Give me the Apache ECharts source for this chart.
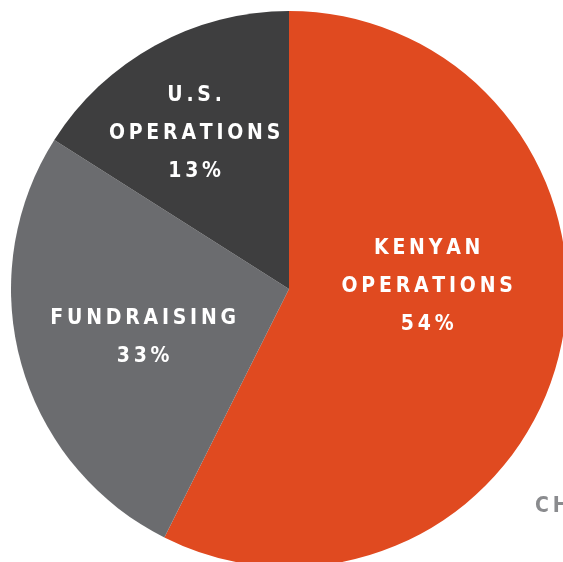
<!DOCTYPE html>
<html>
<head>
<meta charset="utf-8">
<style>
  html, body { margin: 0; padding: 0; background: #fff; }
  #pie { width: 563px; height: 562px; }
</style>
<script src="https://cdn.jsdelivr.net/npm/echarts@6/dist/echarts.min.js"></script>
</head>
<body>
<div id="pie"></div>
<script>
const names = ['KENYAN OPERATIONS', 'FUNDRAISING', 'U.S. OPERATIONS']
const values = [57.4, 26.6, 16.0]
// label text as printed on the chart
const labelLines = [['KENYAN', 'OPERATIONS', '54%'], ['FUNDRAISING', '33%'], ['U.S.', 'OPERATIONS', '13%']]
const colors = ['#E04A20', '#6B6C6F', '#3E3E3F']
// small nudges from the default inside label spot
const labelShift = [[0, -35], [-9, 11], [-26, -31]]

// letter spacing with thin spaces
const spaced = (s) => s.split('').join('\u2009')
const font = '"DejaVu Sans Condensed", "DejaVu Sans", sans-serif'

let data = names.map((n, i) => ({
  name: n,
  value: values[i],
  itemStyle: { color: colors[i] },
  label: { formatter: labelLines[i].map(spaced).join('\n') },
}))

let myChart = echarts.init(document.getElementById('pie'))
myChart.setOption({
  animation: false,
  series: [
    {
      type: 'pie',
      center: [289, 289],
      radius: [0, 278],
      startAngle: 90,
      clockwise: true,
      silent: true,
      itemStyle: { borderWidth: 0 },
      label: {
        show: true,
        position: 'inside',
        color: '#fff',
        fontFamily: font,
        fontWeight: 'bold',
        fontSize: 21,
        lineHeight: 38,
        align: 'center',
      },
      labelLine: { show: false },
      labelLayout: (p) => ({ dx: labelShift[p.dataIndex][0], dy: labelShift[p.dataIndex][1] }),
      data: data,
    },
  ],
  graphic: [
    {
      type: 'text',
      left: 535,
      top: 496,
      style: {
        text: spaced('CH'),
        fill: '#8A8B8E',
        font: 'bold 21px ' + font,
      },
    },
  ],
})
</script>
</body>
</html>
